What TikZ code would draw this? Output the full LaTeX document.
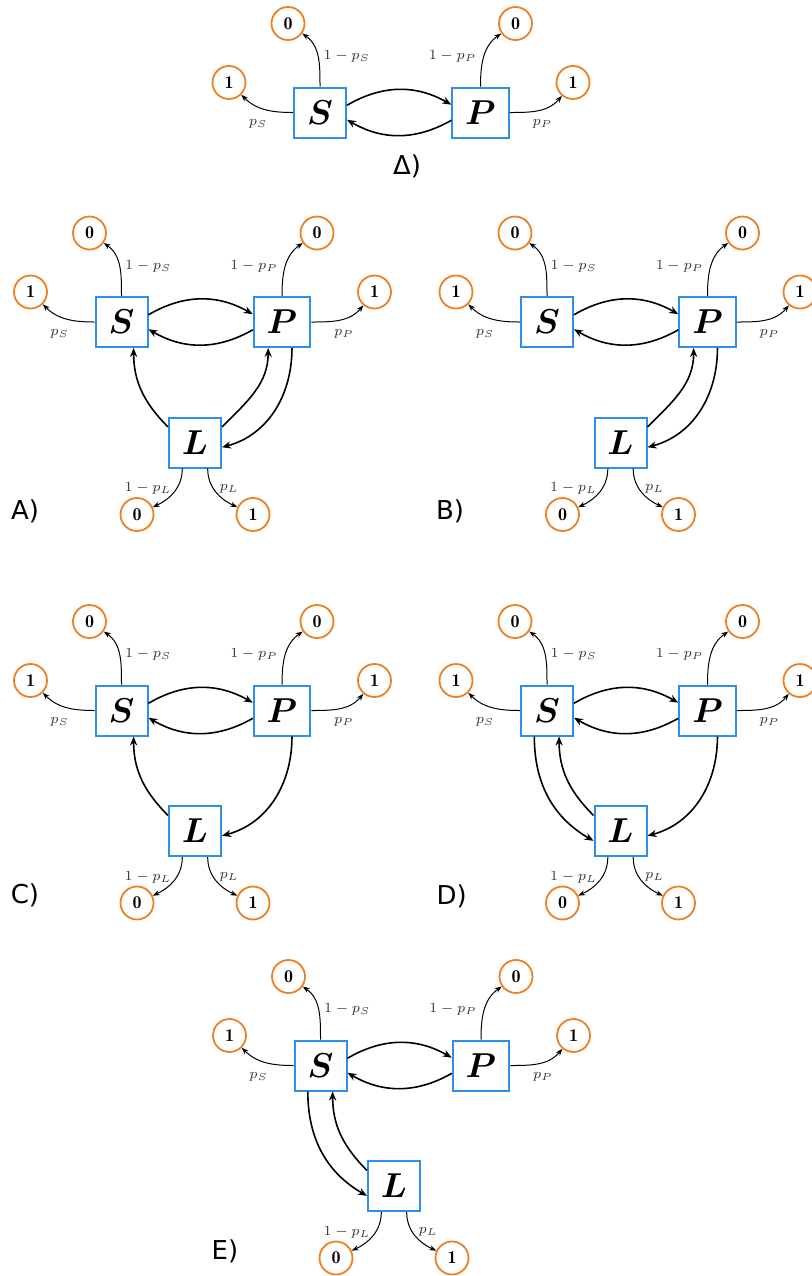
\documentclass[tikz,border=0pt]{standalone}
\usepackage{amsmath}
\usepackage{bm}
\usepackage{fontspec}
\newfontfamily\panelfont{DejaVu Sans}
\usetikzlibrary{arrows.meta}
\definecolor{boxblue}{HTML}{2F8FE8}
\definecolor{outorange}{HTML}{EE7F22}
\tikzset{
  box/.style={draw=boxblue, line width=1pt, fill=white, minimum width=26pt, minimum height=25pt, inner sep=0pt, font=\fontsize{18}{20}\selectfont},
  outc/.style={circle, draw=outorange, line width=0.9pt, minimum size=16.5pt, inner sep=0pt, font=\fontsize{9}{10}\selectfont},
  plab/.style={font=\fontsize{7}{8}\selectfont, text=black!80, inner sep=0pt},
  mainarr/.style={-{Stealth[length=4.5pt,width=3.6pt]}, line width=0.8pt},
  outarr/.style={-{Stealth[length=3.5pt,width=2.6pt]}, line width=0.5pt},
  panlab/.style={font={\panelfont\fontsize{13}{15}\selectfont}, inner sep=0pt},
}
\newcommand{\SPpart}[1]{%
  \node[box] (#1S) at (0,0) {$\bm{S}$};
  \node[box, minimum width=28.25pt] (#1P) at (160.5,0) {$\bm{P}$};
  \node[outc] (#1S0) at (-32,89) {$\mathbf{0}$};
  \node[outc] (#1S1) at (-91,30) {$\mathbf{1}$};
  \node[outc] (#1P0) at (195.5,89) {$\mathbf{0}$};
  \node[outc] (#1P1) at (253,30) {$\mathbf{1}$};
  \node[plab] (#1lS0) at (26.7,56) {$1-p_S$};
  \node[plab] (#1lS1) at (-62,-11.5) {$p_S$};
  \node[plab] (#1lP0) at (132.5,56) {$1-p_P$};
  \node[plab] (#1lP1) at (222.5,-11.5) {$p_P$};
  \draw[outarr] (#1S.north) to[out=90,in=-35] (#1S0);
  \draw[outarr] (#1S.west) to[out=180,in=-45] (#1S1);
  \draw[outarr] (#1P.north) to[out=90,in=-145] (#1P0);
  \draw[outarr] (#1P.east) to[out=0,in=-130] (#1P1);
  \draw[mainarr] (#1S.15) to[bend left=30] (#1P.165);
  \draw[mainarr] (#1P.-165) to[bend left=30] (#1S.-15);
}
\newcommand{\Lpart}[1]{%
  \node[box] (#1L) at (73.5,-120.5) {$\bm{L}$};
  \node[outc] (#1L0) at (15.5,-192.5) {$\mathbf{0}$};
  \node[outc] (#1L1) at (131.5,-192.5) {$\mathbf{1}$};
  \node[plab] (#1lL0) at (26.5,-166.5) {$1-p_L$};
  \node[plab] (#1lL1) at (107.5,-166.5) {$p_L$};
  \draw[outarr] (#1L.-116) to[out=-90,in=25] (#1L0);
  \draw[outarr] (#1L.-64) to[out=-90,in=155] (#1L1);
}
\newcommand{\LtoS}[1]{\draw[mainarr] (#1L.150) to[out=135,in=-90] (#1S.-65);}
\newcommand{\LtoP}[1]{\draw[mainarr] (#1L.30) to[out=45,in=-90] (#1P.-118);}
\newcommand{\PtoL}[1]{\draw[mainarr] (#1P.-69) to[out=-90,in=15] (#1L.-10);}
\newcommand{\StoL}[1]{\draw[mainarr] (#1S.-116) to[out=-90,in=150] (#1L.-160);}
\begin{document}
\begin{tikzpicture}[x=0.5pt,y=0.5pt]
  \useasboundingbox (0,0) rectangle (812,-1276);
  % top panel
  \begin{scope}[shift={(320,-112.5)}]
    \SPpart{T}
  \end{scope}
  \node[panlab] (labT) at (407,-166.7) {Δ)};
  % A
  \begin{scope}[shift={(121.5,-322)}]
    \SPpart{A}\Lpart{A}\LtoS{A}\LtoP{A}\PtoL{A}
  \end{scope}
  \node[panlab] (labA) at (25,-511.7) {A)};
  % B
  \begin{scope}[shift={(547,-322)}]
    \SPpart{B}\Lpart{B}\LtoP{B}\PtoL{B}
  \end{scope}
  \node[panlab] (labB) at (450,-511.7) {B)};
  % C
  \begin{scope}[shift={(121.5,-710.5)}]
    \SPpart{C}\Lpart{C}\LtoS{C}\PtoL{C}
  \end{scope}
  \node[panlab] (labC) at (25,-895) {C)};
  % D
  \begin{scope}[shift={(547,-710.5)}]
    \SPpart{D}\Lpart{D}\StoL{D}\LtoS{D}\PtoL{D}
  \end{scope}
  \node[panlab] (labD) at (451.7,-896.7) {D)};
  % E
  \begin{scope}[shift={(320.5,-1065.5)}]
    \SPpart{E}\Lpart{E}\StoL{E}\LtoS{E}
  \end{scope}
  \node[panlab] (labE) at (225,-1251.7) {E)};
\end{tikzpicture}
\end{document}
